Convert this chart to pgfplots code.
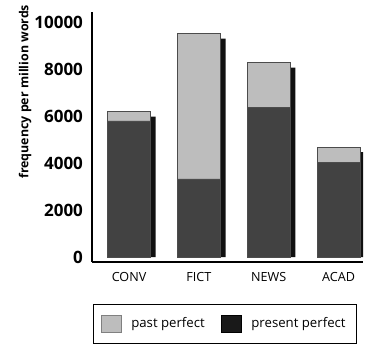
\documentclass[border=0pt]{standalone}
\usepackage{pgfplots}
\pgfplotsset{compat=1.18}
\usepackage{fontspec}
\setmainfont{Open Sans}
\definecolor{lightbar}{HTML}{BDBDBD}
\definecolor{darkbar}{HTML}{424242}
\definecolor{shadow}{HTML}{111111}
\begin{document}
\begin{tikzpicture}
\pgfplotsset{
  common/.style={
    scale only axis, width=135.5pt, height=125pt,
    xmin=-0.53, xmax=3.35, ymin=-200, ymax=10450,
    bar width=21.5pt,
  }
}
% shadows
\begin{axis}[common, hide axis, ybar, bar shift=2.6pt]
\addplot[fill=shadow, draw=none] coordinates {(0,5980) (1,9300) (2,8070) (3,4470)};
\end{axis}
% main bars
\begin{axis}[common, name=main, ybar stacked,
  axis x line*=bottom, axis y line*=left,
  axis line style={-, line width=0.9pt, black},
  major tick length=0pt,
  xtick={0,1,2,3}, xticklabels={CONV,FICT,NEWS,ACAD},
  ytick={0,2000,4000,6000,8000,10000},
  scaled y ticks=false,
  /pgf/number format/assume math mode=true,
  yticklabel={\pgfmathprintnumber[fixed,1000 sep={}]{\tick}},
  yticklabel style={font=\fontsize{8.5}{10}\selectfont\bfseries, xshift=-1pt},
  xticklabel style={font=\fontsize{6.3}{8}\selectfont, yshift=-2pt},
  ylabel={frequency per million words},
  ylabel style={font=\fontsize{6.2}{8}\selectfont\bfseries, at={(axis description cs:-0.247,0.68)}, anchor=center},
  legend columns=2,
  legend style={at={(axis description cs:0.004,-0.169)}, anchor=north west,
    draw=black, line width=0.6pt, inner xsep=3.5pt, inner ysep=4.5pt,
    font=\fontsize{6.6}{8}\selectfont,
    /tikz/every odd column/.append style={column sep=3pt},
    /tikz/every even column/.append style={column sep=6pt}},
  legend image code/.code={\draw[#1, line width=0.3pt] (0pt,-4.3pt) rectangle (10pt,4.3pt);},
]
\addplot[fill=darkbar, draw=black!70, line width=0.3pt, forget plot] coordinates {(0,5800) (1,3330) (2,6380) (3,4030)};
\addplot[fill=lightbar, draw=black!70, line width=0.3pt, forget plot] coordinates {(0,390) (1,6180) (2,1900) (3,650)};
\addlegendimage{fill=lightbar, draw=black!50}
\addlegendentry{past perfect}
\addlegendimage{fill=black!90, draw=black}
\addlegendentry{present perfect}
\end{axis}
\pgfresetboundingbox
\path ([xshift=-46pt, yshift=-41.15pt]main.south west) rectangle ([xshift=1pt, yshift=5.85pt]main.north east);
\end{tikzpicture}
\end{document}
